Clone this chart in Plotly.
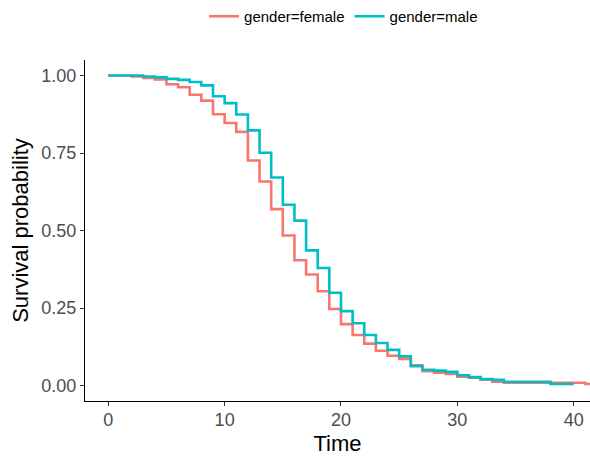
import plotly.graph_objects as go

# Kaplan-Meier step estimates
female_time = [0, 2, 3, 4, 5, 6, 7, 8, 9, 10, 11, 12, 13, 14, 15, 16, 17, 18, 19, 20,
               21, 22, 23, 24, 25, 26, 27, 28, 29, 30, 31, 32, 33, 34, 41, 41.5]
female_surv = [1.0, 0.997, 0.992, 0.987, 0.972, 0.962, 0.938, 0.919, 0.875, 0.847, 0.818,
               0.726, 0.658, 0.569, 0.484, 0.404, 0.358, 0.304, 0.247, 0.198, 0.163, 0.135,
               0.112, 0.096, 0.086, 0.065, 0.046, 0.041, 0.037, 0.028, 0.025, 0.019, 0.012,
               0.009, 0.005, 0.005]

male_time = [0, 3, 4, 5, 6, 7, 8, 9, 10, 11, 12, 13, 14, 15, 16, 17, 18, 19, 20,
             21, 22, 23, 24, 25, 26, 27, 28, 29, 30, 31, 32, 33, 34, 38, 40]
male_surv = [1.0, 0.997, 0.994, 0.989, 0.986, 0.979, 0.968, 0.933, 0.911, 0.874, 0.823,
             0.751, 0.671, 0.583, 0.532, 0.436, 0.379, 0.299, 0.240, 0.201, 0.163, 0.137,
             0.115, 0.094, 0.062, 0.051, 0.048, 0.044, 0.033, 0.027, 0.021, 0.018, 0.012,
             0.005, 0.005]

x_ticks = [0, 10, 20, 30, 40]
y_ticks = [0.0, 0.25, 0.5, 0.75, 1.0]
y_tick_labels = ["0.00", "0.25", "0.50", "0.75", "1.00"]

FONT = "Liberation Sans, Arial"

fig = go.Figure()
fig.add_trace(go.Scatter(x=female_time, y=female_surv, mode="lines", name="gender=female",
                         line=dict(color="#F8766D", width=2.6, shape="hv")))
fig.add_trace(go.Scatter(x=male_time, y=male_surv, mode="lines", name="gender=male",
                         line=dict(color="#00BFC4", width=2.6, shape="hv")))

axis_common = dict(showgrid=False, zeroline=False, showline=True, linecolor="black",
                   linewidth=1.2, ticks="outside", ticklen=4, tickcolor="#333333",
                   tickfont=dict(family=FONT, size=18, color="#4D4D4D"))

fig.update_xaxes(range=[-2.0, 41.4], tickvals=x_ticks, ticklabelstandoff=-2,
                 title=dict(text="Time", font=dict(family=FONT, size=22, color="black"),
                            standoff=6),
                 **axis_common)
fig.update_yaxes(range=[-0.05, 1.05], tickvals=y_ticks, ticktext=y_tick_labels,
                 title=dict(text="Survival probability",
                            font=dict(family=FONT, size=22, color="black"),
                            standoff=6),
                 **axis_common)

fig.update_layout(
    width=590, height=456,
    margin=dict(l=85, r=0, t=58, b=55),
    plot_bgcolor="white", paper_bgcolor="white",
    legend=dict(orientation="h", x=0.512, xanchor="center", y=1.128, yanchor="middle",
                font=dict(family=FONT, size=15, color="black"),
                itemwidth=30, tracegroupgap=0),
)

fig.write_html("out.html")
